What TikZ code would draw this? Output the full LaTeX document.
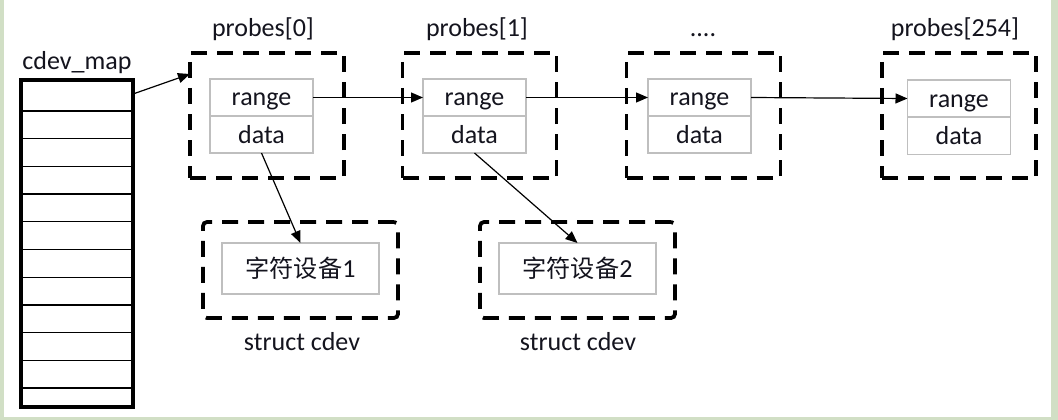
\documentclass[tikz,border=0pt]{standalone}
\usepackage{fontspec}
\setmainfont{Carlito}
\newfontfamily\cjk[Scale=0.93]{Noto Sans CJK SC}
\usetikzlibrary{arrows.meta}
\definecolor{frame}{RGB}{209,223,197}
\definecolor{innergray}{RGB}{191,191,191}
\definecolor{txt}{RGB}{20,20,30}
\begin{document}
\begin{tikzpicture}[x=1pt,y=-1pt,
  every node/.style={font=\fontsize{26}{30}\selectfont, text=txt, inner sep=0pt, outer sep=0pt},
  lbl/.style={anchor=base},
  dbox/.style={draw, line width=3.8pt, dash pattern=on 16pt off 10pt, minimum width=154pt, minimum height=125pt},
  cbox/.style={draw, line width=3.8pt, dash pattern=on 16pt off 10pt, rounded corners=4pt, minimum width=195pt, minimum height=96pt},
  field/.style={draw=innergray, line width=1.3pt, minimum width=103pt, minimum height=37pt, text height=19pt, text depth=2pt},
  devbox/.style={draw=innergray, line width=1.3pt, minimum width=157pt, minimum height=51pt},
  arr/.style={line width=1.2pt, -{Triangle[length=12pt,width=10pt]}},
  rowline/.style={line width=1.3pt}
]
\useasboundingbox (0,0) rectangle (1058,420);
\fill[white] (0,0) rectangle (1058,420);
\fill[frame] (0,0) rectangle (4,420);
\fill[frame] (1051,0) rectangle (1058,420);
\fill[frame] (0,417) rectangle (1058,420);

% cdev_map table
\node[lbl] (maplabel) at (77,70) {cdev\_map};
\node[draw, line width=3.5pt, minimum width=112pt, minimum height=327pt] (map) at (77,243.5) {};
\foreach \k in {0,...,10}{
  \pgfmathsetmacro{\d}{31+27.7*\k}
  \draw[rowline] ([yshift=-\d pt]map.north west) -- ([yshift=-\d pt]map.north east);
}

% probes boxes
\node[dbox] (p0) at (267,115.5) {};
\node[dbox] (p1) at (479.5,115.5) {};
\node[dbox] (p2) at (703.5,115.5) {};
\node[dbox] (p3) at (959,115.5) {};

\node[lbl] (l0) at (263,37) {probes[0]};
\node[lbl] (l1) at (477,37) {probes[1]};
\node[lbl] (l2) at (703,37) {....};
\node[lbl] (l3) at (955,37) {probes[254]};

\node[field] (r0) at (261.5,97.5) {range};
\node[field] (d0) at (261.5,134.5) {data};
\node[field] (r1) at (474.5,97.5) {range};
\node[field] (d1) at (474.5,134.5) {data};
\node[field] (r2) at (699.5,97.5) {range};
\node[field] (d2) at (699.5,134.5) {data};
\node[field] (r3) at (959,98.5) {range};
\node[field] (d3) at (959,136) {data};

% struct cdev boxes
\node[cbox] (c1) at (300.5,270) {};
\node[devbox] (dev1) at (300.5,268.5) {{\cjk 字符设备}1};
\node[lbl] (s1) at (302,350) {struct cdev};
\node[cbox] (c2) at (577.5,270) {};
\node[devbox] (dev2) at (577.5,268.5) {{\cjk 字符设备}2};
\node[lbl] (s2) at (578,350) {struct cdev};

% connectors
\coordinate (mapout) at ([yshift=-14pt]map.north east);
\coordinate (p0in) at ([yshift=-21pt]p0.north west);
\draw[arr] (mapout) -- (p0in);
\draw[arr] (r0.east) -- (r1.west);
\draw[arr] (r1.east) -- (r2.west);
\draw[arr] (r2.east) -- (r3.west);
\draw[arr] (d0.south) -- (dev1.north);
\draw[arr] (d1.south) -- (dev2.north);
\end{tikzpicture}
\end{document}
